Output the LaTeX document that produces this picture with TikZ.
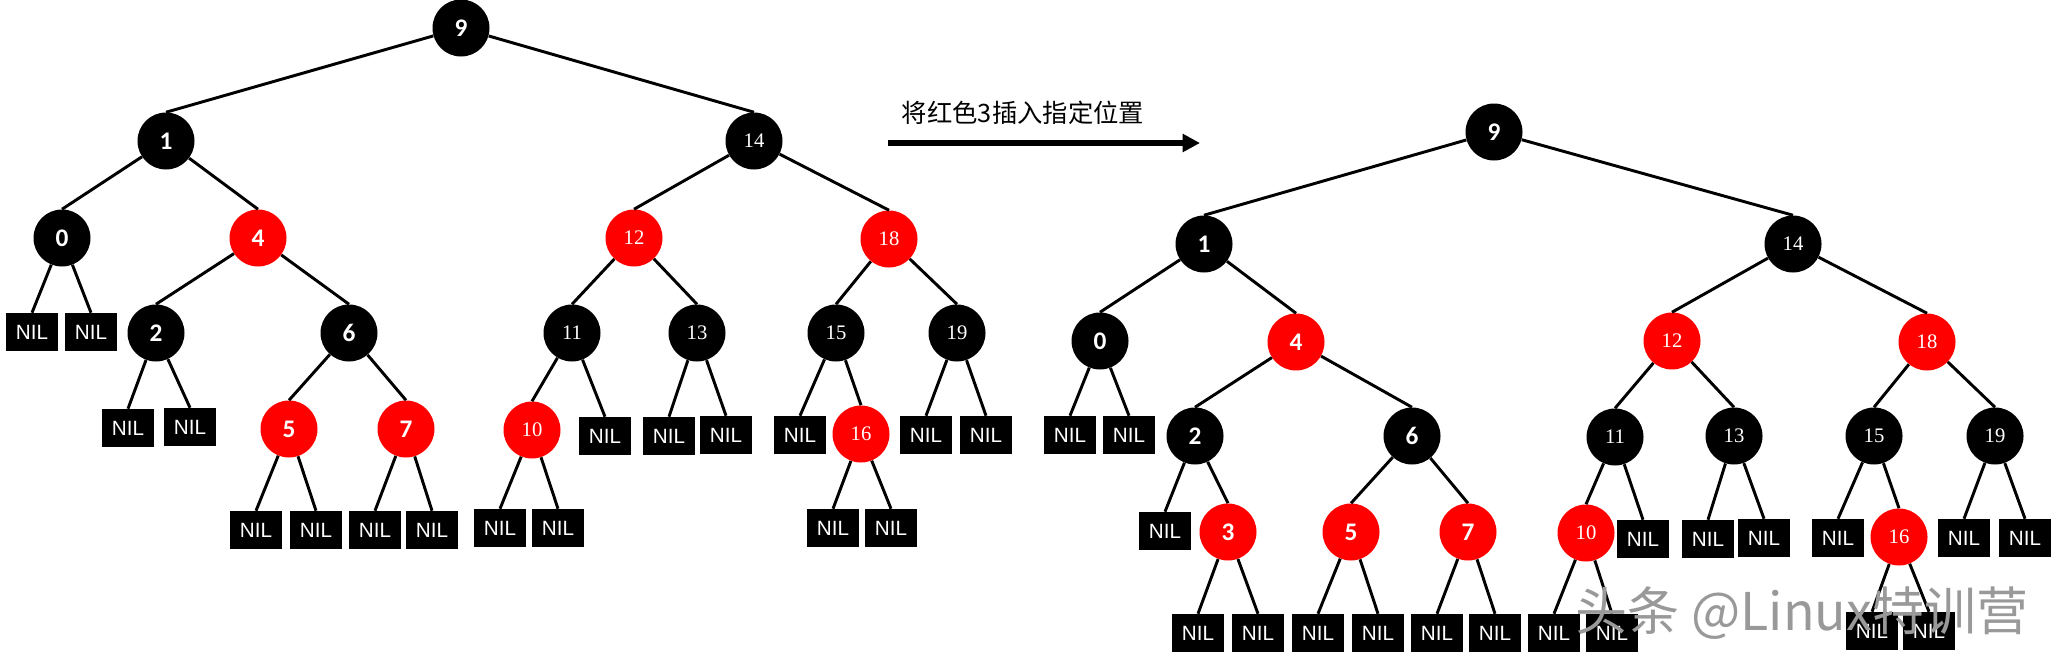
\documentclass[tikz,border=0pt]{standalone}
\usepackage{fontspec}
\setsansfont{Liberation Sans}
\newfontfamily\digfont{Carlito}
\newfontfamily\numfont{Liberation Serif}
\newfontfamily\cjk{Noto Sans CJK SC}
\usetikzlibrary{arrows.meta}

\tikzset{
  tnode/.style={circle, minimum size=42.75pt, inner sep=0pt, text=white},
  bnode/.style={tnode, fill=black},
  rnode/.style={tnode, fill=red},
  sdig/.style={font=\digfont\bfseries\fontsize{19}{19}\selectfont},
  ddig/.style={font=\numfont\fontsize{15.5}{15.5}\selectfont},
  nilbox/.style={fill=black, text=white, minimum width=39.5pt, minimum height=28.5pt,
    inner sep=0pt, font=\sffamily\fontsize{15.5}{15.5}\selectfont},
  edge/.style={line width=2.2pt},
}

\begin{document}
\begin{tikzpicture}[x=0.75pt, y=-0.75pt]
\useasboundingbox (0,0) rectangle (2055,661);

% before: left tree
\node[bnode, sdig] (a9)  at (461,28)  {9};
\node[bnode, sdig] (a1)  at (166,141) {1};
\node[bnode, ddig] (a14) at (754,141) {14};
\node[bnode, sdig] (a0)  at (62,238)  {0};
\node[rnode, sdig] (a4)  at (258,238) {4};
\node[rnode, ddig] (a12) at (634,238) {12};
\node[rnode, ddig] (a18) at (889,239) {18};
\node[bnode, sdig] (a2)  at (156,333) {2};
\node[bnode, sdig] (a6)  at (349,333) {6};
\node[bnode, ddig] (a11) at (572,333) {11};
\node[bnode, ddig] (a13) at (697,333) {13};
\node[bnode, ddig] (a15) at (836,333) {15};
\node[bnode, ddig] (a19) at (957,333) {19};
\node[rnode, sdig] (a5)  at (289,429) {5};
\node[rnode, sdig] (a7)  at (406,429) {7};
\node[rnode, ddig] (a10) at (532,430) {10};
\node[rnode, ddig] (a16) at (861,434) {16};

\foreach \p/\c in {a9/a1, a9/a14, a1/a0, a1/a4, a4/a2, a4/a6, a6/a5, a6/a7,
    a14/a12, a14/a18, a12/a11, a12/a13, a11/a10, a18/a15, a18/a19, a15/a16}
  \draw[edge] (\p) -- (\c.north);

\foreach \p/\s/\x/\y in {a0/l/32/332, a0/r/91/332, a2/l/128/428, a2/r/190/427,
    a5/l/256/530, a5/r/316/530, a7/l/375/530, a7/r/432/530,
    a10/l/500/528, a10/r/558/528, a11/r/605/436, a13/l/669/436, a13/r/726/435,
    a15/l/800/435, a16/l/833/528, a16/r/891/528, a19/l/926/435, a19/r/986/435} {
  \node[nilbox] (\p\s) at (\x,\y) {NIL};
  \draw[edge] (\p) -- (\p\s.north);
}

% insertion arrow
\coordinate (go) at (888,143);
\coordinate (goend) at (1200,143);
\draw[line width=4.9pt, -{Triangle[length=13pt, width=13pt]}] (go) -- (goend);
\node[font=\cjk\fontsize{19}{19}\selectfont] (note) at (1023,113) {将红色3插入指定位置};

% after: right tree
\node[bnode, sdig] (b9)  at (1494,132) {9};
\node[bnode, sdig] (b1)  at (1204,244) {1};
\node[bnode, ddig] (b14) at (1793,244) {14};
\node[bnode, sdig] (b0)  at (1100,341) {0};
\node[rnode, sdig] (b4)  at (1296,342) {4};
\node[rnode, ddig] (b12) at (1672,341) {12};
\node[rnode, ddig] (b18) at (1927,342) {18};
\node[bnode, sdig] (b2)  at (1195,436) {2};
\node[bnode, sdig] (b6)  at (1412,436) {6};
\node[bnode, ddig] (b11) at (1615,437) {11};
\node[bnode, ddig] (b13) at (1734,436) {13};
\node[bnode, ddig] (b15) at (1874,436) {15};
\node[bnode, ddig] (b19) at (1995,436) {19};
\node[rnode, sdig] (b3)  at (1228,532) {3};
\node[rnode, sdig] (b5)  at (1351,532) {5};
\node[rnode, sdig] (b7)  at (1468,532) {7};
\node[rnode, ddig] (b10) at (1586,533) {10};
\node[rnode, ddig] (b16) at (1899,537) {16};

\foreach \p/\c in {b9/b1, b9/b14, b1/b0, b1/b4, b4/b2, b4/b6, b2/b3, b6/b5, b6/b7,
    b14/b12, b14/b18, b12/b11, b12/b13, b11/b10, b18/b15, b18/b19, b15/b16}
  \draw[edge] (\p) -- (\c.north);

\foreach \p/\s/\x/\y in {b0/l/1070/435, b0/r/1129/435, b2/l/1165/531,
    b3/l/1198/633, b3/r/1258/633, b5/l/1318/633, b5/r/1378/633,
    b7/l/1437/633, b7/r/1495/633, b10/l/1554/633, b10/r/1612/633,
    b11/r/1643/539, b13/l/1708/539, b13/r/1764/538, b15/l/1838/538,
    b16/l/1872/631, b16/r/1929/631, b19/l/1964/538, b19/r/2025/538} {
  \node[nilbox] (\p\s) at (\x,\y) {NIL};
  \draw[edge] (\p) -- (\p\s.north);
}

\node[font=\cjk\fontsize{39}{39}\selectfont, text=black!40] (mark) at (1802,613) {头条 @Linux特训营};
\end{tikzpicture}
\end{document}
